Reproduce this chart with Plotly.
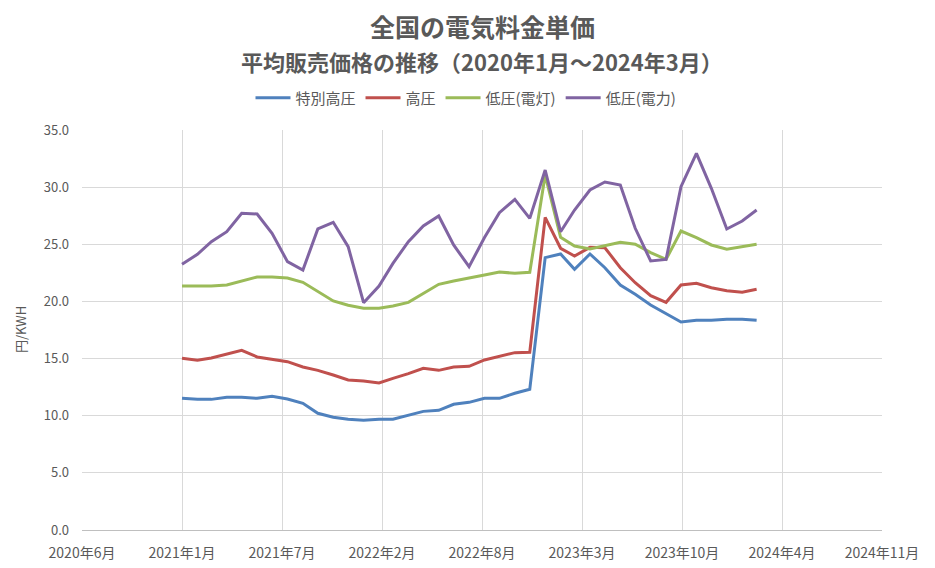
import datetime as dt
import plotly.graph_objects as go

# 月次データ（2021年1月～2024年3月）
months = [f"{y}-{m:02d}-01" for y in range(2021, 2025) for m in range(1, 13)][:39]

tokubetsu_koatsu = [11.52, 11.43, 11.43, 11.61, 11.61, 11.52, 11.70, 11.46, 11.08, 10.21,
                    9.86, 9.69, 9.60, 9.69, 9.69, 10.06, 10.38, 10.47, 11.00, 11.17,
                    11.52, 11.52, 11.96, 12.31, 23.83, 24.15, 22.81, 24.15, 22.95, 21.44,
                    20.62, 19.69, 18.96, 18.20, 18.35, 18.35, 18.44, 18.44, 18.35]
koatsu = [15.02, 14.85, 15.05, 15.40, 15.72, 15.14, 14.96, 14.73, 14.26, 13.97,
          13.56, 13.13, 13.04, 12.86, 13.27, 13.68, 14.15, 13.97, 14.26, 14.32,
          14.88, 15.17, 15.52, 15.55, 27.36, 24.65, 23.98, 24.73, 24.70, 22.95,
          21.64, 20.50, 19.92, 21.44, 21.58, 21.20, 20.94, 20.80, 21.06]
teiatsu_dento = [21.35, 21.35, 21.35, 21.44, 21.79, 22.14, 22.14, 22.05, 21.67, 20.85,
                 20.04, 19.66, 19.40, 19.40, 19.60, 19.92, 20.71, 21.50, 21.79, 22.08,
                 22.31, 22.58, 22.46, 22.55, 31.06, 25.61, 24.85, 24.59, 24.85, 25.17,
                 25.00, 24.27, 23.68, 26.16, 25.58, 24.94, 24.56, 24.79, 25.00]
teiatsu_denryoku = [23.25, 24.12, 25.23, 26.10, 27.71, 27.65, 25.96, 23.48, 22.75, 26.34,
                    26.92, 24.79, 19.89, 21.35, 23.33, 25.23, 26.60, 27.48, 24.94, 23.04,
                    25.60, 27.77, 28.93, 27.27, 31.50, 26.10, 28.00, 29.75, 30.45, 30.19,
                    26.40, 23.54, 23.68, 30.04, 32.96, 29.90, 26.34, 27.04, 28.00]

series = [
    ("特別高圧", tokubetsu_koatsu, "#4F81BD"),
    ("高圧", koatsu, "#C0504D"),
    ("低圧(電灯)", teiatsu_dento, "#9BBB59"),
    ("低圧(電力)", teiatsu_denryoku, "#8064A2"),
]

tick_labels = ["2020年6月", "2021年1月", "2021年7月", "2022年2月", "2022年8月",
               "2023年3月", "2023年10月", "2024年4月", "2024年11月"]

# 日付軸の目盛り（201日間隔）
start = dt.date(2020, 6, 14)
tick_vals = [(start + dt.timedelta(days=201 * i)).isoformat() for i in range(len(tick_labels))]

FONT = "Noto Sans CJK JP"
GRAY = "#595959"
PLOT_H = 400  # プロット領域の高さ(px)
PLOT_W = 800

fig = go.Figure()
for name, vals, color in series:
    fig.add_trace(go.Scatter(
        x=months, y=vals, name=name, mode="lines",
        line=dict(color=color, width=3),
    ))

# タイトル・サブタイトル
fig.add_annotation(text="<b>全国の電気料金単価</b>", x=0.5, xref="paper",
                   y=1 + 104 / PLOT_H, yref="paper", yanchor="middle",
                   showarrow=False, font=dict(size=25, color=GRAY, family=FONT))
fig.add_annotation(text="<b>平均販売価格の推移（2020年1月～2024年3月）</b>", x=0.5, xref="paper",
                   y=1 + 69 / PLOT_H, yref="paper", yanchor="middle",
                   showarrow=False, font=dict(size=22, color=GRAY, family=FONT))
# 縦軸タイトル
fig.add_annotation(text="円/KWH", x=-62 / PLOT_W, xref="paper", xanchor="center",
                   y=0.5, yref="paper", yanchor="middle", textangle=-90,
                   showarrow=False, font=dict(size=13, color=GRAY, family=FONT))

# ページ余白(8px)を差し引いた余白設定
fig.update_layout(
    width=935, height=568,
    margin=dict(l=74, r=61, t=122, b=46, autoexpand=False),
    plot_bgcolor="white", paper_bgcolor="white",
    font=dict(family=FONT, size=13, color=GRAY),
    showlegend=True,
    legend=dict(orientation="h", x=0.48, xanchor="center",
                y=1 + 32 / PLOT_H, yanchor="middle",
                font=dict(size=15, color=GRAY), itemwidth=35,
                tracegroupgap=0),
)

fig.update_xaxes(
    type="date", automargin=False,
    range=[tick_vals[0], tick_vals[-1]],
    tickvals=tick_vals, ticktext=tick_labels,
    showgrid=True, gridcolor="#D9D9D9", gridwidth=1,
    showline=True, linecolor="#BFBFBF", linewidth=1,
    ticks="", ticklabelstandoff=10, tickfont=dict(size=14, color=GRAY),
    zeroline=False,
)
fig.update_yaxes(
    automargin=False,
    range=[0, 35], dtick=5, tickformat=".1f",
    showgrid=True, gridcolor="#D9D9D9", gridwidth=1,
    showline=False, zeroline=False,
    ticks="", ticklabelstandoff=12, tickfont=dict(size=13, color=GRAY),
)

fig.write_html("out.html")
